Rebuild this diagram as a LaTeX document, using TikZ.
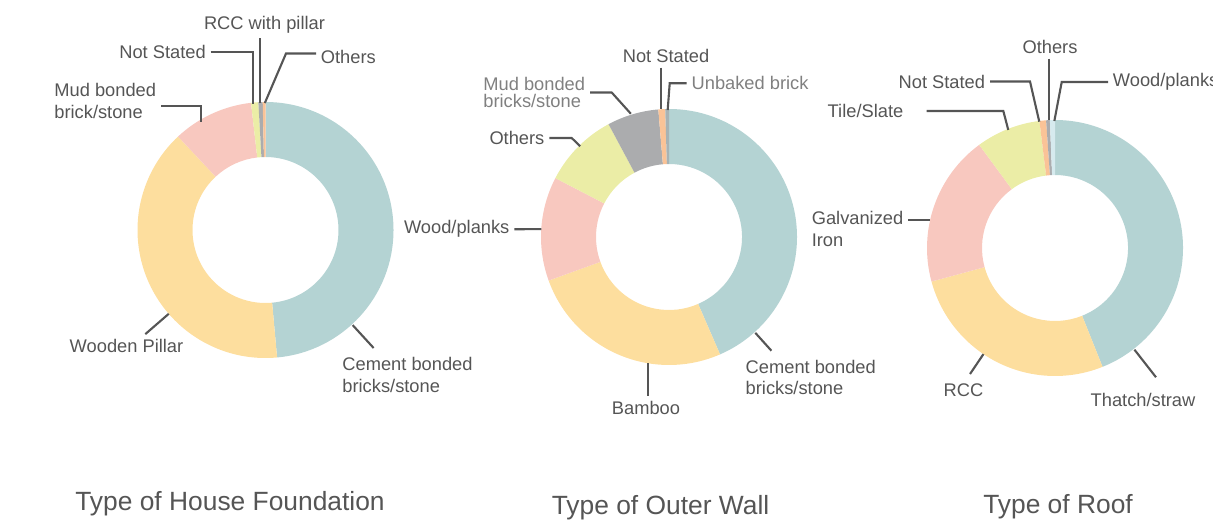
\documentclass[tikz,border=0pt]{standalone}
\usepackage{fontspec}
\setmainfont{Liberation Sans}
\usetikzlibrary{calc}
\definecolor{ink}{HTML}{555555}
\definecolor{inkl}{HTML}{808080}
\definecolor{tealc}{HTML}{B4D3D3}
\definecolor{sandc}{HTML}{FDDE9E}
\definecolor{rosec}{HTML}{F8C8BF}
\definecolor{limec}{HTML}{EBEDA6}
\definecolor{greyc}{HTML}{ABACAE}
\definecolor{peachc}{HTML}{FAC397}
\definecolor{icec}{HTML}{D6EAEE}
\definecolor{slatec}{HTML}{A7B3B5}
\def\ringslice[#1](#2)(#3:#4){\fill[#1] ($(#2)+(#3:128)$) arc (#3:#4:128) -- ($(#2)+(#4:73)$) arc (#4:#3:73) -- cycle;}

\begin{document}
\begin{tikzpicture}[x=0.01cm, y=0.01cm,
	lbl/.style={inner sep=1.2pt, text=ink, align=left, font=\fontsize{5.2pt}{6pt}\selectfont},
	faint/.style={lbl, text=inkl},
	ttl/.style={inner sep=0pt, text=ink, font=\fontsize{7.5pt}{9pt}\selectfont},
	leader/.style={line width=0.6pt, draw=ink}]
		%%%%% START %%%%%
		\useasboundingbox (0,0) rectangle (1213,524);
		
		\coordinate (c1) at (265.5,294);
		\coordinate (c2) at (669,287);
		\coordinate (c3) at (1055,276);
		
		% house foundation
		\ringslice[tealc](c1)(90:-84.8)
		\ringslice[sandc](c1)(-84.8:-226.9)
		\ringslice[rosec](c1)(-226.9:-263.5)
		\ringslice[limec](c1)(-263.5:-266.8)
		\ringslice[greyc](c1)(-266.8:-268.75)
		\ringslice[peachc](c1)(-268.75:-270)
		
		\coordinate (p1a) at ($(c1)+(95.5:127)$);
		\coordinate (p1b) at ($(c1)+(92.5:127)$);
		\coordinate (p1c) at ($(c1)+(90.3:127)$);
		\coordinate (p1d) at ($(c1)+(120.8:126)$);
		\coordinate (p1e) at ($(c1)+(220.9:128)$);
		\coordinate (q1e) at ($(c1)+(220.9:159)$);
		\coordinate (p1f) at ($(c1)+(-47.5:129)$);
		\coordinate (q1f) at ($(c1)+(-47.5:160)$);
		
		\node[lbl] (rcc1) at (264.5,499) {RCC with pillar};
		\node[lbl, anchor=east] (ns1) at (210.7,472) {Not Stated};
		\node[lbl, anchor=west] (ot1) at (316,467) {Others};
		\node[lbl, anchor=east] (md1) at (161,423) {Mud bonded\\brick/stone};
		\node[lbl] (wp1) at (126.5,178) {Wooden Pillar};
		\node[lbl, anchor=west] (cb1) at (337.5,149) {Cement bonded\\bricks/stone};
		
		\draw[leader] (rcc1.south -| p1b) -- (p1b);
		\draw[leader] (ns1.east) -| (p1a);
		\draw[leader] ([yshift=0.035cm]ot1.west) -- ++(-30,0) -- (p1c);
		\draw[leader] ([yshift=-0.05cm]md1.east) -| (p1d);
		\draw[leader] (p1e) -- (q1e);
		\draw[leader] (p1f) -- (q1f);
		
		% outer wall
		\ringslice[tealc](c2)(90:-66.5)
		\ringslice[sandc](c2)(-66.5:-160.1)
		\ringslice[rosec](c2)(-160.1:-207.4)
		\ringslice[limec](c2)(-207.4:-241.8)
		\ringslice[greyc](c2)(-241.8:-265.2)
		\ringslice[peachc](c2)(-265.2:-268.3)
		\ringslice[slatec](c2)(-268.3:-270)
		
		\coordinate (p2a) at ($(c2)+(93.6:128)$);
		\coordinate (p2b) at ($(c2)+(90.6:127)$);
		\coordinate (p2c) at ($(c2)+(107.2:129)$);
		\coordinate (p2d) at ($(c2)+(134.4:127)$);
		\coordinate (p2e) at ($(c2)+(176.5:128)$);
		\coordinate (p2f) at ($(c2)+(-99.6:128)$);
		\coordinate (p2g) at ($(c2)+(-48:129)$);
		\coordinate (q2g) at ($(c2)+(-48:153)$);
		
		\node[lbl] (ns2) at (666,468) {Not Stated};
		\node[faint, anchor=west] (ub2) at (686.7,440.7) {Unbaked brick};
		\node[faint, anchor=east] (mb2) at (590,431.5) {Mud bonded\\[-1pt]bricks/stone};
		\node[lbl, anchor=east] (ot2) at (549.3,386) {Others};
		\node[lbl, anchor=east] (wp2) at (514.3,294.8) {Wood/planks};
		\node[lbl] (bb2) at (646,116) {Bamboo};
		\node[lbl, anchor=west] (cb2) at (740.8,146.5) {Cement bonded\\bricks/stone};
		
		\draw[leader] (ns2.south -| p2a) -- (p2a);
		\draw[leader] (ub2.west) -- ++(-17,0) -- (p2b);
		\draw[leader] (mb2.east) -- ++(21.7,0) -- (p2c);
		\draw[leader] (ot2.east) -- ++(22.4,0) -- (p2d);
		\draw[leader] (wp2.east) -- (p2e);
		\draw[leader] (p2f) -- (p2f |- bb2.north);
		\draw[leader] (p2g) -- (q2g);
		
		% roof
		\ringslice[tealc](c3)(90:-68.2)
		\ringslice[sandc](c3)(-68.2:-164.8)
		\ringslice[rosec](c3)(-164.8:-233.7)
		\ringslice[limec](c3)(-233.7:-263)
		\ringslice[peachc](c3)(-263:-266)
		\ringslice[greyc](c3)(-266:-267.7)
		\ringslice[icec](c3)(-267.7:-270)
		
		\coordinate (p3a) at ($(c3)+(92.5:128)$);
		\coordinate (p3b) at ($(c3)+(97.1:127.3)$);
		\coordinate (p3c) at ($(c3)+(90.3:127)$);
		\coordinate (p3d) at ($(c3)+(111.6:127)$);
		\coordinate (p3e) at ($(c3)+(167.4:128)$);
		\coordinate (p3f) at ($(c3)+(-124:128)$);
		\coordinate (q3f) at ($(c3)+(-124:152)$);
		\coordinate (p3g) at ($(c3)+(-52:129)$);
		\coordinate (q3g) at ($(c3)+(-52:164)$);
		
		\node[lbl] (ot3) at (1050,477) {Others};
		\node[lbl, anchor=east] (ns3) at (990,442.5) {Not Stated};
		\node[lbl, anchor=west] (wd3) at (1108,442) {Wood/planks};
		\node[lbl, anchor=east] (ts3) at (908.2,413) {Tile/Slate};
		\node[lbl, anchor=east] (gi3) at (908.2,295) {Galvanized\\Iron};
		\node[lbl] (rc3) at (963.5,134) {RCC};
		\node[lbl] (th3) at (1143,124) {Thatch/straw};
		
		\draw[leader] (ot3.south -| p3a) -- (p3a);
		\draw[leader] (ns3.east) -- ++(40,0) -- (p3b);
		\draw[leader] (wd3.west) -- ++(-46.3,0) -- (p3c);
		\draw[leader] ([xshift=0.185cm]ts3.east) -- ++(76.6,0) -- (p3d);
		\draw[leader] (gi3.east |- p3e) -- (p3e);
		\draw[leader] (p3f) -- (q3f);
		\draw[leader] (p3g) -- (q3g);
		
		% titles
		\node[ttl] (t1) at (230,20) {Type of House Foundation};
		\node[ttl] (t2) at (660.5,16) {Type of Outer Wall};
		\node[ttl] (t3) at (1058,17) {Type of Roof};
		%%%%% END %%%%%
\end{tikzpicture}
\end{document}
